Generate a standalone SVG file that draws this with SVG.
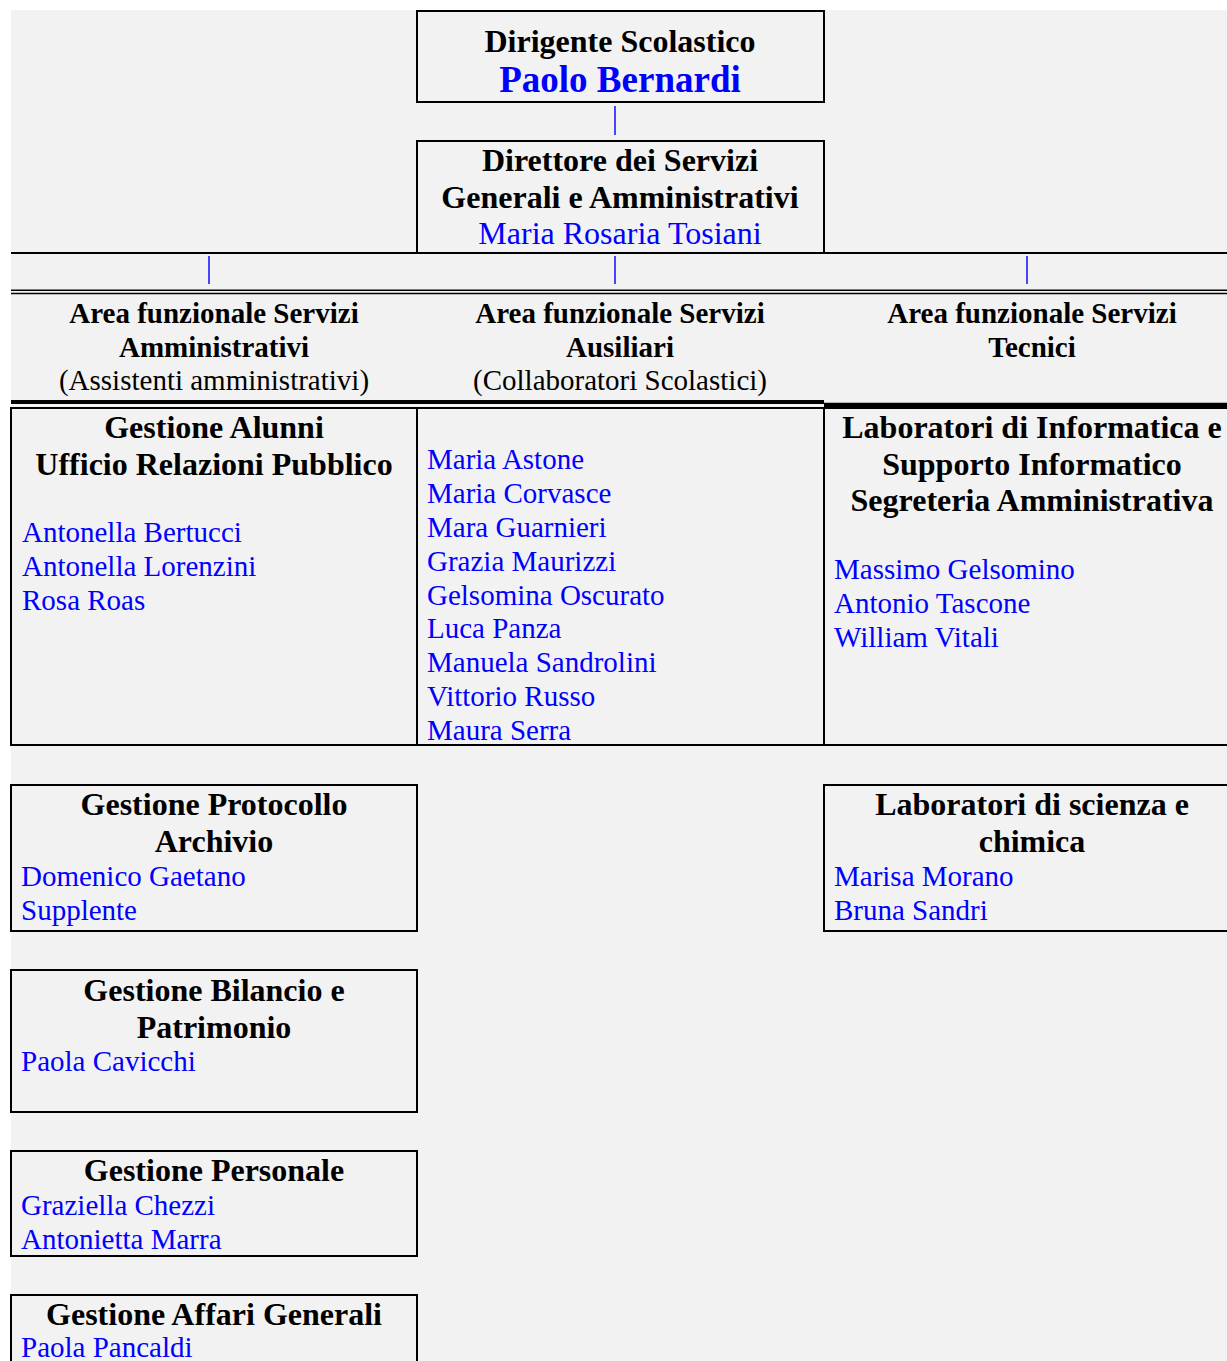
<svg xmlns="http://www.w3.org/2000/svg" width="1227" height="1361" viewBox="0 0 1227 1361" font-family="Liberation Serif, Times New Roman, serif">
<style>
.box{fill:none;stroke:#000;stroke-width:2}
.ln{stroke:#000;stroke-width:2}
.conn{stroke:#4646ff;stroke-width:2}
text{font-family:'Liberation Serif',serif}
.t{font-size:32px;font-weight:bold;fill:#000;text-anchor:middle}
.h{font-size:29px;font-weight:bold;fill:#000;text-anchor:middle}
.s{font-size:29px;fill:#000;text-anchor:middle}
.n{font-size:29px;fill:#0000ff}
.nc{font-size:32px;fill:#0000ff;text-anchor:middle}
</style>
<rect x="0" y="0" width="1227" height="1361" fill="#ffffff"/>
<rect x="11" y="10" width="1216" height="1351" fill="#f2f2f2"/>

<g id="connectors">
  <line class="conn" x1="615" y1="106" x2="615" y2="135"/>
  <line class="ln" x1="11" y1="253" x2="1227" y2="253"/>
  <line class="conn" x1="209" y1="256" x2="209" y2="284"/>
  <line class="conn" x1="615" y1="256" x2="615" y2="284"/>
  <line class="conn" x1="1027" y1="256" x2="1027" y2="284"/>
  <line stroke="#000" stroke-width="1.6" x1="11" y1="290.3" x2="1227" y2="290.3"/>
  <line stroke="#000" stroke-width="1.6" x1="11" y1="293.5" x2="1227" y2="293.5"/>
  <line stroke="#000" stroke-width="4" x1="11" y1="402" x2="824" y2="402"/>
  <line stroke="#000" stroke-width="5.5" x1="824" y1="405.5" x2="1227" y2="405.5"/>
</g>

<g id="dirigente">
  <rect class="box" x="417" y="11" width="407" height="91"/>
  <text class="t" x="620" y="52">Dirigente Scolastico</text>
  <text x="620" y="92" font-size="37" font-weight="bold" fill="#0000ff" text-anchor="middle">Paolo Bernardi</text>
</g>

<g id="direttore">
  <rect class="box" x="417" y="141" width="407" height="112"/>
  <text class="t" x="620" y="171">Direttore dei Servizi</text>
  <text class="t" x="620" y="208">Generali e Amministrativi</text>
  <text class="nc" x="620" y="244">Maria Rosaria Tosiani</text>
</g>

<g id="area-amministrativi">
  <text class="h" x="214" y="323">Area funzionale Servizi</text>
  <text class="h" x="214" y="357">Amministrativi</text>
  <text class="s" x="214" y="390">(Assistenti amministrativi)</text>
</g>
<g id="area-ausiliari">
  <text class="h" x="620" y="323">Area funzionale Servizi</text>
  <text class="h" x="620" y="357">Ausiliari</text>
  <text class="s" x="620" y="390">(Collaboratori Scolastici)</text>
</g>
<g id="area-tecnici">
  <text class="h" x="1032" y="323">Area funzionale Servizi</text>
  <text class="h" x="1032" y="357">Tecnici</text>
</g>

<g id="gestione-alunni">
  <rect class="box" x="11" y="408" width="406" height="337"/>
  <text class="t" x="214" y="438">Gestione Alunni</text>
  <text class="t" x="214" y="475">Ufficio Relazioni Pubblico</text>
  <text class="n" x="22" y="542">Antonella Bertucci</text>
  <text class="n" x="22" y="576">Antonella Lorenzini</text>
  <text class="n" x="22" y="610">Rosa Roas</text>
</g>

<g id="collaboratori">
  <rect class="box" x="417" y="408" width="407" height="337"/>
  <text class="n" x="427" y="469">Maria Astone</text>
  <text class="n" x="427" y="503">Maria Corvasce</text>
  <text class="n" x="427" y="537">Mara Guarnieri</text>
  <text class="n" x="427" y="571">Grazia Maurizzi</text>
  <text class="n" x="427" y="605">Gelsomina Oscurato</text>
  <text class="n" x="427" y="638">Luca Panza</text>
  <text class="n" x="427" y="672">Manuela Sandrolini</text>
  <text class="n" x="427" y="706">Vittorio Russo</text>
  <text class="n" x="427" y="740">Maura Serra</text>
</g>

<g id="lab-informatica">
  <path class="box" d="M1230 408 H824 V745 H1230"/>
  <text class="t" x="1032" y="438">Laboratori di Informatica e</text>
  <text class="t" x="1032" y="475">Supporto Informatico</text>
  <text class="t" x="1032" y="511">Segreteria Amministrativa</text>
  <text class="n" x="834" y="579">Massimo Gelsomino</text>
  <text class="n" x="834" y="613">Antonio Tascone</text>
  <text class="n" x="834" y="647">William Vitali</text>
</g>

<g id="gestione-protocollo">
  <rect class="box" x="11" y="785" width="406" height="146"/>
  <text class="t" x="214" y="815">Gestione Protocollo</text>
  <text class="t" x="214" y="852">Archivio</text>
  <text class="n" x="21" y="886">Domenico Gaetano</text>
  <text class="n" x="21" y="920">Supplente</text>
</g>

<g id="lab-scienza">
  <path class="box" d="M1230 785 H824 V931 H1230"/>
  <text class="t" x="1032" y="815">Laboratori di scienza e</text>
  <text class="t" x="1032" y="852">chimica</text>
  <text class="n" x="834" y="886">Marisa Morano</text>
  <text class="n" x="834" y="920">Bruna Sandri</text>
</g>

<g id="gestione-bilancio">
  <rect class="box" x="11" y="970" width="406" height="142"/>
  <text class="t" x="214" y="1001">Gestione Bilancio e</text>
  <text class="t" x="214" y="1038">Patrimonio</text>
  <text class="n" x="21" y="1071">Paola Cavicchi</text>
</g>

<g id="gestione-personale">
  <rect class="box" x="11" y="1151" width="406" height="105"/>
  <text class="t" x="214" y="1181">Gestione Personale</text>
  <text class="n" x="21" y="1215">Graziella Chezzi</text>
  <text class="n" x="21" y="1249">Antonietta Marra</text>
</g>

<g id="gestione-affari">
  <path class="box" d="M11 1370 V1295 H417 V1370"/>
  <text class="t" x="214" y="1325">Gestione Affari Generali</text>
  <text class="n" x="21" y="1357">Paola Pancaldi</text>
</g>
</svg>
